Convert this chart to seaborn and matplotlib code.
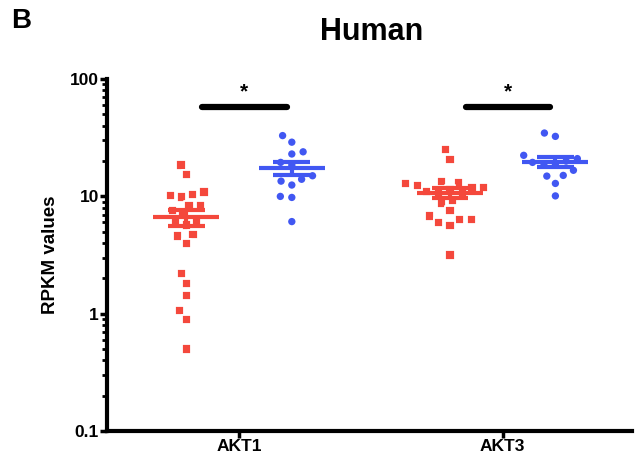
import numpy as np
import pandas as pd
import seaborn as sns
import matplotlib.pyplot as plt

genes = ['AKT1', 'AKT3']
groups = ['group1', 'group2']

# RPKM values
akt1_g1 = [18.5, 15.3, 10.9, 10.1, 9.9, 10.4, 8.4, 8.4, 7.6, 7.0, 6.3, 6.0,
           5.7, 4.75, 4.6, 3.98, 2.19, 1.80, 1.43, 1.06, 0.89, 0.50]
akt1_g2 = [33, 29, 24, 23, 19.5, 18.5, 15, 14, 13.5, 12.5, 10, 9.8, 6.1]
akt3_g1 = [25.2, 20.6, 12.4, 13.2, 13.3, 12.8, 12.0, 11.8, 11.5, 11.0, 10.8,
           10.5, 9.3, 8.8, 7.55, 6.8, 6.4, 6.38, 5.97, 5.67, 3.17]
akt3_g2 = [34.7, 32.5, 22.4, 21, 20, 19.5, 19, 18.5, 16.7, 15.1, 14.9, 12.9, 10.1]

colors = {'group1': '#F4483C', 'group2': '#4157F2'}
markers = {'group1': 's', 'group2': 'o'}
stars = ['*', '*']

rows = []
for gene, grp, vals in [('AKT1', 'group1', akt1_g1), ('AKT1', 'group2', akt1_g2),
                        ('AKT3', 'group1', akt3_g1), ('AKT3', 'group2', akt3_g2)]:
    for v in vals:
        rows.append((gene, grp, v))
df = pd.DataFrame(rows, columns=['gene', 'group', 'rpkm'])

sns.set_style('ticks')
plt.rcParams['font.family'] = ['Liberation Sans', 'DejaVu Sans']
plt.rcParams['font.weight'] = 'bold'
plt.rcParams['text.color'] = 'black'
plt.rcParams['axes.labelcolor'] = 'black'
plt.rcParams['xtick.color'] = 'black'
plt.rcParams['ytick.color'] = 'black'
plt.rcParams['axes.edgecolor'] = 'black'

fig = plt.figure(figsize=(6.35, 4.71), dpi=100)
ax = fig.add_axes([0.169, 0.085, 0.826, 0.747])
ax.set_yscale('log')

# white edge keeps the swarm a bit looser, like the original layout
for grp in groups:
    sub = df[df.group == grp]
    sns.swarmplot(data=sub, x='gene', y='rpkm', hue='group', hue_order=groups,
                  order=genes, dodge=True, palette=colors, warn_thresh=1,
                  marker=markers[grp], size=6.6, linewidth=1.3, edgecolor='white',
                  legend=False, ax=ax)

# mean +/- SEM lines
offs = {'group1': -0.2, 'group2': 0.2}
for i, gene in enumerate(genes):
    for grp in groups:
        v = df[(df.gene == gene) & (df.group == grp)].rpkm.values
        m = v.mean()
        se = v.std(ddof=1) / np.sqrt(len(v))
        x = i + offs[grp]
        ax.hlines(m, x - 0.125, x + 0.125, color=colors[grp], lw=3, zorder=5)
        ax.hlines([m - se, m + se], x - 0.07, x + 0.07, color=colors[grp], lw=3, zorder=5)
        ax.vlines(x, m - se, m + se, color=colors[grp], lw=3, zorder=5)

# significance bars
for i, s in enumerate(stars):
    ax.plot([i - 0.14, i + 0.18], [58, 58], color='black', lw=4.5,
            solid_capstyle='round')
    ax.text(i + 0.02, 64, s, ha='center', va='bottom', fontsize=15, fontweight='bold')

ax.set_xlim(-0.5, 1.49)
ax.set_ylim(0.1, 100)
ax.set_yticks([0.1, 1, 10, 100])
ax.set_yticklabels(['0.1', '1', '10', '100'])
ax.set_xlabel('')
ax.set_ylabel('RPKM values', fontsize=13.5, fontweight='bold', labelpad=8)

sns.despine(ax=ax)
for sp in ['left', 'bottom']:
    ax.spines[sp].set_linewidth(3)
ax.tick_params(axis='both', which='major', width=2.5, length=5, labelsize=12.5, pad=1)
ax.tick_params(axis='y', which='minor', width=2, length=3.5)
for lab in ax.get_xticklabels() + ax.get_yticklabels():
    lab.set_fontweight('bold')

fig.text(0.586, 0.932, 'Human', ha='center', va='center', fontsize=22, fontweight='bold')
fig.text(0.018, 0.955, 'B', ha='left', va='center', fontsize=20, fontweight='bold')

fig.savefig('out.png', dpi=100)
